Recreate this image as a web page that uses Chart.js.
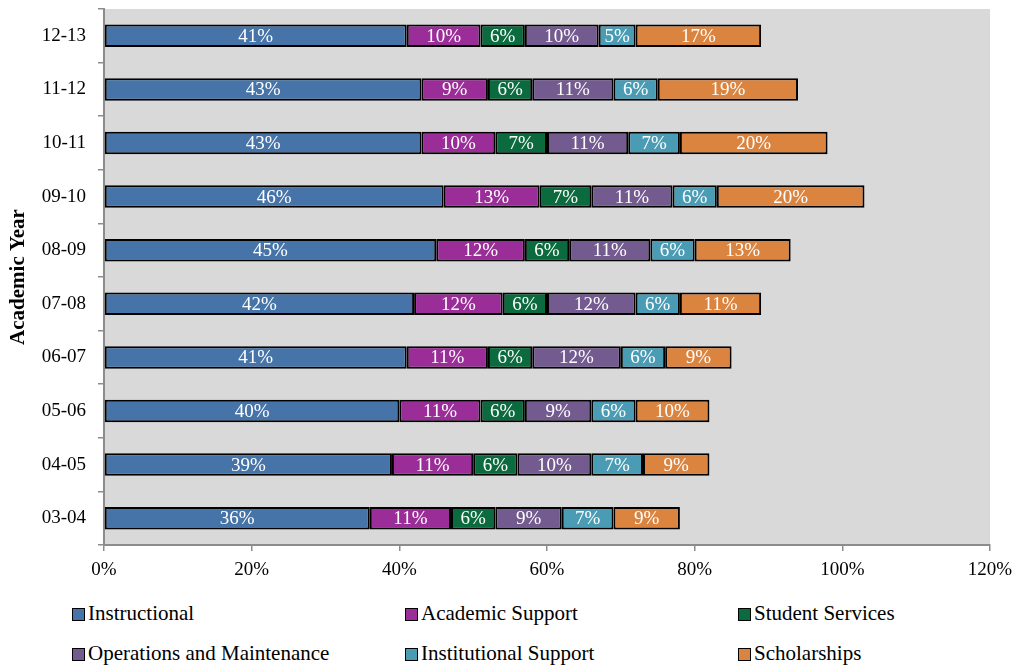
<!DOCTYPE html>
<html lang="en">
<head>
    <meta charset="UTF-8">
    <title>Expenditures by Academic Year</title>
    <script src="https://cdn.jsdelivr.net/npm/chart.js"></script>
    <style>
        body {
            margin: 0;
            background: #fff;
            font-family: "Liberation Serif", serif;
        }
        .wrap {
            position: relative;
            width: 1031px;
            height: 666px;
        }
        .chart-box {
            position: absolute;
            left: 0;
            top: 0;
            width: 1031px;
            height: 590px;
        }
        .legend {
            position: absolute;
            left: 72px;
            top: 601px;
            display: grid;
            grid-template-columns: 333px 333px 260px;
            row-gap: 16px;
            font-size: 21px;
            line-height: 24px;
            color: #000;
        }
        .legend span.box {
            display: inline-block;
            width: 11px;
            height: 11px;
            border: 1.5px solid #000;
            margin-right: 3px;
            vertical-align: -1px;
        }
    </style>
</head>
<body>
<div class="wrap">
    <div class="chart-box"><canvas id="spendChart"></canvas></div>
    <div class="legend" id="legend"></div>
</div>
<script>
    const years = ['12-13', '11-12', '10-11', '09-10', '08-09', '07-08', '06-07', '05-06', '04-05', '03-04'];

    const instructional = [41, 43, 43, 46, 45, 42, 41, 40, 39, 36];
    const academicSupport = [10, 9, 10, 13, 12, 12, 11, 11, 11, 11];
    const studentServices = [6, 6, 7, 7, 6, 6, 6, 6, 6, 6];
    const operations = [10, 11, 11, 11, 11, 12, 12, 9, 10, 9];
    const institutionalSupport = [5, 6, 7, 6, 6, 6, 6, 6, 7, 7];
    const scholarships = [17, 19, 20, 20, 13, 11, 9, 10, 9, 9];

    const xTicks = [0, 20, 40, 60, 80, 100, 120];

    const series = [
        { label: 'Instructional', data: instructional, color: '#4674a8' },
        { label: 'Academic Support', data: academicSupport, color: '#9b2d99' },
        { label: 'Student Services', data: studentServices, color: '#0b6a3e' },
        { label: 'Operations and Maintenance', data: operations, color: '#735a8f' },
        { label: 'Institutional Support', data: institutionalSupport, color: '#4a9cb4' },
        { label: 'Scholarships', data: scholarships, color: '#db8440' }
    ];

    const serif = '"Liberation Serif", serif';

    // gray fill behind the bars
    const plotBackground = {
        id: 'plotBackground',
        beforeDraw(chart) {
            const a = chart.chartArea;
            const ctx = chart.ctx;
            ctx.save();
            ctx.fillStyle = '#d9d9d9';
            ctx.fillRect(a.left, a.top, a.right - a.left, a.bottom - a.top);
            ctx.restore();
        }
    };

    // percentage written in the middle of each segment
    const segmentLabels = {
        id: 'segmentLabels',
        afterDatasetsDraw(chart) {
            const ctx = chart.ctx;
            ctx.save();
            ctx.fillStyle = '#ffffff';
            ctx.font = '19px ' + serif;
            ctx.textAlign = 'center';
            ctx.textBaseline = 'middle';
            chart.data.datasets.forEach((ds, i) => {
                chart.getDatasetMeta(i).data.forEach((bar, j) => {
                    const x = (bar.x + bar.base) / 2;
                    ctx.fillText(ds.data[j] + '%', x, bar.y + 1);
                });
            });
            ctx.restore();
        }
    };

    const ctx = document.getElementById('spendChart').getContext('2d');
    new Chart(ctx, {
        type: 'bar',
        data: {
            labels: years,
            datasets: series.map(s => ({
                label: s.label,
                data: s.data,
                backgroundColor: s.color,
                borderColor: '#000000',
                borderWidth: 2,
                borderSkipped: false,
                barPercentage: 0.42,
                categoryPercentage: 1
            }))
        },
        options: {
            indexAxis: 'y',
            responsive: true,
            maintainAspectRatio: false,
            animation: false,
            layout: {
                padding: { top: 9, right: 41, bottom: 0, left: 0 }
            },
            plugins: {
                legend: { display: false },
                tooltip: { enabled: false }
            },
            scales: {
                x: {
                    stacked: true,
                    min: 0,
                    max: 120,
                    afterBuildTicks(scale) {
                        scale.ticks = xTicks.map(v => ({ value: v }));
                    },
                    afterFit(scale) {
                        scale.height = 45;
                    },
                    ticks: {
                        callback: v => v + '%',
                        color: '#000',
                        padding: 8,
                        maxRotation: 0,
                        font: { family: serif, size: 19 }
                    },
                    grid: {
                        drawOnChartArea: false,
                        drawTicks: true,
                        tickLength: 6,
                        color: '#8c8c8c',
                        lineWidth: 1.5
                    },
                    border: { color: '#8c8c8c', width: 2 }
                },
                y: {
                    stacked: true,
                    afterFit(scale) {
                        scale.width = 104;
                        scale.paddingTop = 0;
                        scale.paddingBottom = 0;
                    },
                    ticks: {
                        color: '#000',
                        padding: 12,
                        font: { family: serif, size: 19 }
                    },
                    grid: {
                        offset: true,
                        drawOnChartArea: false,
                        drawTicks: true,
                        tickLength: 6,
                        color: '#8c8c8c',
                        lineWidth: 1.5
                    },
                    border: { color: '#8c8c8c', width: 2 },
                    title: {
                        display: true,
                        text: 'Academic Year',
                        color: '#000',
                        padding: { top: 6, bottom: 0 },
                        font: { family: serif, size: 21, weight: 'bold' }
                    }
                }
            }
        },
        plugins: [plotBackground, segmentLabels]
    });

    // legend laid out in three columns below the chart
    const legend = document.getElementById('legend');
    series.forEach(s => {
        const item = document.createElement('div');
        item.innerHTML = '<span class="box" style="background:' + s.color + '"></span>' + s.label;
        legend.appendChild(item);
    });
</script>
</body>
</html>
